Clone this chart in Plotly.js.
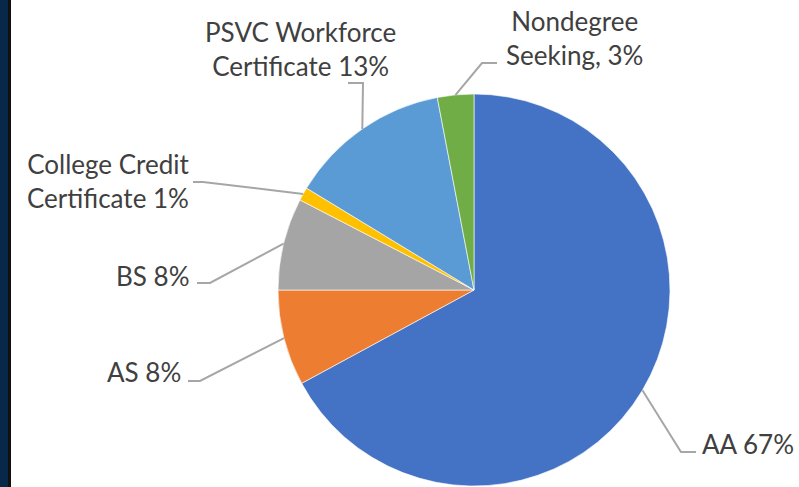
<!DOCTYPE html>
<html>
<head>
<meta charset="utf-8">
<script src="https://cdn.plot.ly/plotly-3.0.1.min.js"></script>
<style>html,body{margin:0;padding:0;background:#fff;}#chart{width:799px;height:487px;}</style>
</head>
<body>
<div id="chart"></div>
<script>
// ---- data ----
const categories = ["AA", "AS", "BS", "College Credit Certificate", "PSVC Workforce Certificate", "Nondegree Seeking"];
const shares = [67.1, 7.9, 7.6, 1.1, 13.3, 3.0];
const labelPrefixes = ["AA ", "AS ", "BS ", "College Credit<br>Certificate ", "PSVC Workforce<br>Certificate ", "Nondegree<br>Seeking, "];
const sliceColors = ["#4472C4", "#ED7D31", "#A5A5A5", "#FFC000", "#5B9BD5", "#70AD47"];

// ---- layout (page pixels) ----
const W = 799, H = 487;
const pieCx = 474, pieCy = 290, pieR = 196;
// label placement: elbow point, end of leader, text anchor
const labelPlace = [
  {ex: 681, ey: 452, tx: 696, ty: 452, ax: 700, ay: 444, xa: "left",   al: "left"},
  {ex: 200, ey: 381, tx: 188, ty: 381, ax: 183, ay: 372, xa: "right",  al: "right"},
  {ex: 210, ey: 283, tx: 197, ty: 283, ax: 192, ay: 276, xa: "right",  al: "right"},
  {ex: 203, ey: 182, tx: 193, ty: 182, ax: 108, ay: 181, xa: "center", al: "center"},
  {ex: 363, ey: 83,  tx: 348, ty: 83,  ax: 300, ay: 49,  xa: "center", al: "center"},
  {ex: 482, ey: 63,  tx: 497, ty: 63,  ax: 574, ay: 38,  xa: "center", al: "center"}
];

const px = x => x / W;
const py = y => 1 - y / H;

const total = shares.reduce((a, b) => a + b, 0);
let cum = 0;
const shapes = [];
const annotations = [];
shares.forEach((v, i) => {
  const mid = 2 * Math.PI * (cum + v / 2) / total;
  cum += v;
  const sx = pieCx + pieR * Math.sin(mid);
  const sy = pieCy - pieR * Math.cos(mid);
  const p = labelPlace[i];
  shapes.push({
    type: "path", xref: "paper", yref: "paper", layer: "above",
    path: `M ${px(sx)} ${py(sy)} L ${px(p.ex)} ${py(p.ey)} L ${px(p.tx)} ${py(p.ty)}`,
    line: {color: "#A6A6A6", width: 2}
  });
  const pct = Math.round(100 * v / total);
  annotations.push({
    xref: "paper", yref: "paper", x: px(p.ax), y: py(p.ay),
    xanchor: p.xa, yanchor: "middle", align: p.al, showarrow: false,
    text: labelPrefixes[i] + pct + "%",
    font: {family: "Lato, 'Open Sans', sans-serif", size: 26, color: "#404040"}
  });
});

// left dark frame
shapes.push({type: "rect", xref: "paper", yref: "paper", x0: 0, x1: px(8), y0: 0, y1: 1, fillcolor: "#08284A", line: {width: 0}, layer: "above"});
shapes.push({type: "rect", xref: "paper", yref: "paper", x0: px(8), x1: px(11), y0: 0, y1: 1, fillcolor: "#111111", line: {width: 0}, layer: "above"});

const trace = {
  type: "pie",
  labels: categories,
  values: shares,
  sort: false,
  direction: "clockwise",
  rotation: 0,
  textinfo: "none",
  hoverinfo: "label+percent",
  marker: {colors: sliceColors, line: {color: "rgba(255,255,255,0.6)", width: 1}},
  domain: {x: [px(pieCx - pieR), px(pieCx + pieR)], y: [py(pieCy + pieR), py(pieCy - pieR)]},
  showlegend: false
};

Plotly.newPlot("chart", [trace], {
  width: W, height: H,
  margin: {l: 0, r: 0, t: 0, b: 0},
  paper_bgcolor: "#ffffff",
  showlegend: false,
  shapes: shapes,
  annotations: annotations
}, {displayModeBar: false, staticPlot: true});
</script>
</body>
</html>
